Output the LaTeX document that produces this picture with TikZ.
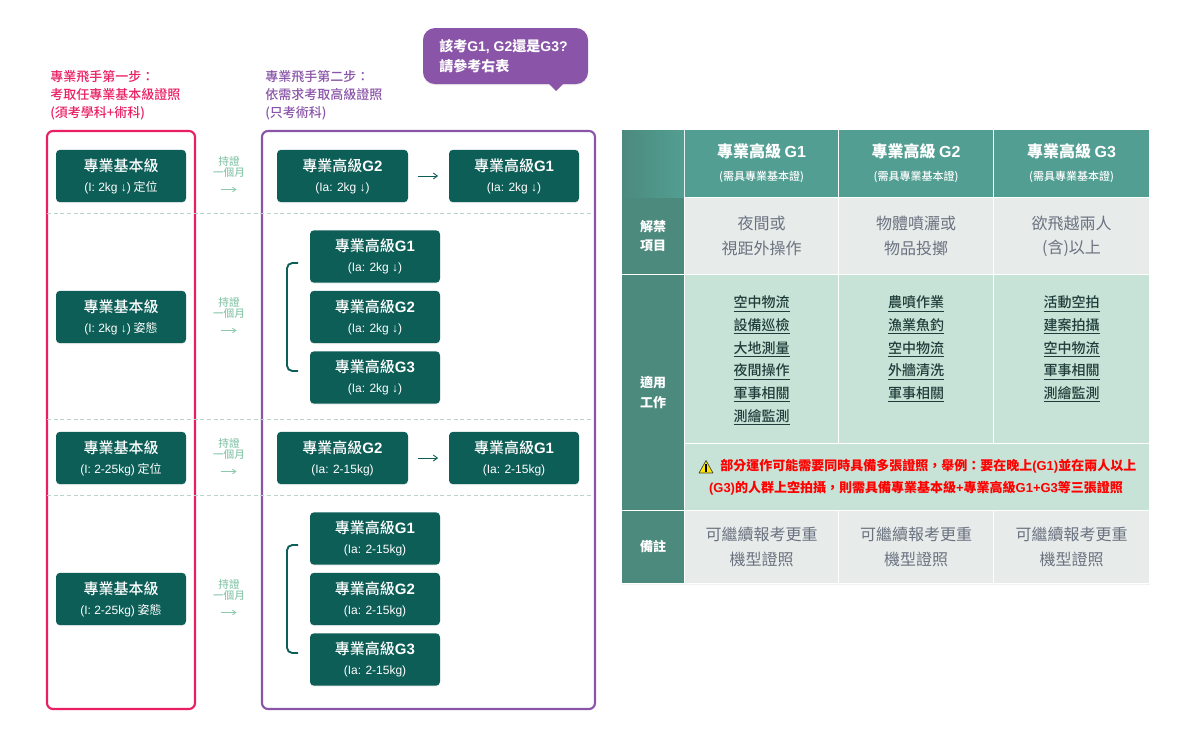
\documentclass[tikz,border=0pt]{standalone}
\usepackage{fontspec}
\setmainfont{Noto Sans CJK TC}
\newfontfamily\med{Noto Sans CJK TC Medium}
\newfontfamily\ltn{Liberation Sans}
\usetikzlibrary{arrows.meta,shadows,calc}
\definecolor{boxgreen}{HTML}{0D5E57}
\definecolor{stepred}{HTML}{E91E63}
\definecolor{steppurple}{HTML}{8A55A8}
\definecolor{dashline}{HTML}{BCD3CC}
\definecolor{holdgreen}{HTML}{8CC8AC}
\definecolor{headteal}{HTML}{529E92}
\definecolor{sideteal}{HTML}{4D8A7E}
\definecolor{cellgrey}{HTML}{E7EBEA}
\definecolor{cellgreen}{HTML}{C7E2D6}
\definecolor{greytext}{HTML}{6B7280}
\definecolor{linktext}{HTML}{1F3D3A}
\newcommand\fs[2]{\fontsize{#1}{#2}\selectfont}
\newcommand\boxtxt[2]{{\fs{11.25pt}{15pt}\med #1}\\{\fs{9pt}{15pt}#2}}
\newcommand\ul[1]{\underline{#1}}
\tikzset{
 x=0.75pt,y=-0.75pt,
 gbox/.style={fill=boxgreen,text=white,rounded corners=3pt,inner sep=0pt,align=center,minimum height=39.3pt,
   font=\fs{9pt}{15pt},drop shadow={opacity=.1,shadow xshift=0pt,shadow yshift=-.8pt}},
 frame/.style={line width=1.6pt,rounded corners=4.5pt,fill=none,inner sep=0pt},
 steptxt/.style={anchor=north west,inner sep=0pt,align=left,font=\fs{9.75pt}{13.5pt}\med},
 holdtxt/.style={text=holdgreen,inner sep=0pt,align=center,font=\fs{8pt}{8.3pt}\med},
 holdarrow/.style={draw=holdgreen,line width=.6pt,-{Straight Barb[length=2.5pt,width=3.5pt]}},
 nextarrow/.style={draw=boxgreen,line width=.7pt,-{Straight Barb[length=3pt,width=4.5pt]},shorten >=8pt,shorten <=7.5pt},
 bracket/.style={draw=boxgreen,line width=1.4pt,rounded corners=4pt},
 sep/.style={draw=dashline,line width=.6pt,dash pattern=on 3pt off 2pt},
 cell/.style={inner sep=0pt,align=center,outer sep=0pt},
 headcell/.style={cell,fill=headteal,text=white,font=\fs{9pt}{17pt}},
 sidecell/.style={cell,fill=sideteal,text=white,font=\fs{9.75pt}{14.6pt}\bfseries},
 greycell/.style={cell,fill=cellgrey,text=greytext,font=\fs{12pt}{18.2pt}},
 greencell/.style={cell,fill=cellgreen,text=linktext,font=\fs{10.5pt}{17pt}\med},
}
\newcommand\cellnode[7]{\node[#6,minimum width=#4*0.75pt,minimum height=#5*0.75pt] (#1) at (#2,#3) {#7};}
\newcommand\headtxt[1]{{\fs{12pt}{17pt}\bfseries 專業高級 {\ltn #1}}\\{\fs{8.25pt}{17pt}\med (需具專業基本證)}}
\begin{document}
\begin{tikzpicture}
\useasboundingbox (0,0) rectangle (1203,751);
% step titles
\node[steptxt,text=stepred] (stepa) at (50,70) {專業飛手第一步：\\考取任專業基本級證照\\(須考學科+術科)};
\node[steptxt,text=steppurple] (stepb) at (265,70) {專業飛手第二步：\\依需求考取高級證照\\(只考術科)};
% callout
\fill[steppurple,drop shadow={opacity=.15,shadow xshift=0pt,shadow yshift=-1pt},rounded corners=9pt] (423,28) rectangle (588,84);
\fill[steppurple] (549,84) -- (556,91) -- (563,84) -- cycle;
\node[anchor=west,inner sep=0pt,align=left,text=white,font=\fs{10.5pt}{15pt}\bfseries] (callout) at (439,56.5) {該考{\ltn G1, G2}還是{\ltn G3?}\\請參考右表};
% frames
\node[frame,draw=stepred,minimum width=111pt,minimum height=433.5pt] (framea) at (121,420) {};
\node[frame,draw=steppurple,minimum width=249.75pt,minimum height=433.5pt] (frameb) at (428.5,420) {};
% separators
\coordinate (s1a) at (47,213.5); \coordinate (s1b) at (593,213.5);
\coordinate (s2a) at (47,419.5); \coordinate (s2b) at (593,419.5);
\coordinate (s3a) at (47,495.5); \coordinate (s3b) at (593,495.5);
\draw[sep] (s1a) -- (s1b); \draw[sep] (s2a) -- (s2b); \draw[sep] (s3a) -- (s3b);
% basic boxes
\node[gbox,minimum width=97.5pt] (b1) at (121,176) {\boxtxt{專業基本級}{{\ltn (I: 2kg ↓)} 定位}};
\node[gbox,minimum width=97.5pt] (b2) at (121,317) {\boxtxt{專業基本級}{{\ltn (I: 2kg ↓)} 姿態}};
\node[gbox,minimum width=97.5pt] (b3) at (121,458) {\boxtxt{專業基本級}{{\ltn (I: 2-25kg)} 定位}};
\node[gbox,minimum width=97.5pt] (b4) at (121,599) {\boxtxt{專業基本級}{{\ltn (I: 2-25kg)} 姿態}};
% hold labels
\foreach \n/\y in {1/176,2/317,3/458,4/599}{
 \node[holdtxt] (h\n) at (229,\y-9.5) {持證\\一個月};
 \coordinate (ha\n) at (221,\y+13.5); \coordinate (hb\n) at (236.5,\y+13.5);
 \draw[holdarrow] (ha\n) -- (hb\n);
}
% row 1
\node[gbox,minimum width=98.25pt] (r1a) at (342.5,176) {\boxtxt{{\ltn\bfseries\phantom{}}專業高級{\ltn\bfseries G2}}{\ltn (Ia: 2kg ↓)}};
\node[gbox,minimum width=97.5pt] (r1b) at (514,176) {\boxtxt{專業高級{\ltn\bfseries G1}}{\ltn (Ia: 2kg ↓)}};
\draw[nextarrow] (r1a.east) -- (r1b.west);
% row 2
\node[gbox,minimum width=97.5pt] (r2a) at (375,256.5) {\boxtxt{專業高級{\ltn\bfseries G1}}{\ltn (Ia: 2kg ↓)}};
\node[gbox,minimum width=97.5pt] (r2b) at (375,317) {\boxtxt{專業高級{\ltn\bfseries G2}}{\ltn (Ia: 2kg ↓)}};
\node[gbox,minimum width=97.5pt] (r2c) at (375,377.5) {\boxtxt{專業高級{\ltn\bfseries G3}}{\ltn (Ia: 2kg ↓)}};
\coordinate (br2a) at (298,263); \coordinate (br2b) at (287,263); \coordinate (br2c) at (287,371); \coordinate (br2d) at (298,371);
\draw[bracket] (br2a) -- (br2b) -- (br2c) -- (br2d);
% row 3
\node[gbox,minimum width=98.25pt] (r3a) at (342.5,458) {\boxtxt{專業高級{\ltn\bfseries G2}}{\ltn (Ia: 2-15kg)}};
\node[gbox,minimum width=97.5pt] (r3b) at (514,458) {\boxtxt{專業高級{\ltn\bfseries G1}}{\ltn (Ia: 2-15kg)}};
\draw[nextarrow] (r3a.east) -- (r3b.west);
% row 4
\node[gbox,minimum width=97.5pt] (r4a) at (375,538.5) {\boxtxt{專業高級{\ltn\bfseries G1}}{\ltn (Ia: 2-15kg)}};
\node[gbox,minimum width=97.5pt] (r4b) at (375,599) {\boxtxt{專業高級{\ltn\bfseries G2}}{\ltn (Ia: 2-15kg)}};
\node[gbox,minimum width=97.5pt] (r4c) at (375,659.5) {\boxtxt{專業高級{\ltn\bfseries G3}}{\ltn (Ia: 2-15kg)}};
\coordinate (br4a) at (298,545); \coordinate (br4b) at (287,545); \coordinate (br4c) at (287,653); \coordinate (br4d) at (298,653);
\draw[bracket] (br4a) -- (br4b) -- (br4c) -- (br4d);
% table back
\fill[white,drop shadow={opacity=.1,shadow xshift=0pt,shadow yshift=-.5pt}] (621,129) rectangle (1150,584);
% header row
\fill[left color=sideteal,right color=headteal] (622,130) rectangle (684,197);
\cellnode{hg1}{761.5}{163.5}{153}{67}{headcell}{\headtxt{G1}}
\cellnode{hg2}{916}{163.5}{154}{67}{headcell}{\headtxt{G2}}
\cellnode{hg3}{1071.5}{163.5}{155}{67}{headcell}{\headtxt{G3}}
% row ban
\cellnode{sa}{653}{236}{62}{76}{sidecell}{解禁\\項目}
\cellnode{a1}{761.5}{236}{153}{76}{greycell}{夜間或\\視距外操作}
\cellnode{a2}{916}{236}{154}{76}{greycell}{物體噴灑或\\物品投擲}
\cellnode{a3}{1071.5}{236}{155}{76}{greycell}{欲飛越兩人\\(含)以上}
% row jobs
\cellnode{sb}{653}{392.5}{62}{235}{sidecell}{適用\\工作}
\node[greencell,minimum width=114.75pt,minimum height=126pt,anchor=north] (b1c) at (761.5,275) {};
\node[greencell,minimum width=115.5pt,minimum height=126pt,anchor=north] (b2c) at (916,275) {};
\node[greencell,minimum width=116.25pt,minimum height=126pt,anchor=north] (b3c) at (1071.5,275) {};
\node[greencell,anchor=north] (j1) at (761.5,296) {\ul{空中物流}\\\ul{設備巡檢}\\\ul{大地測量}\\\ul{夜間操作}\\\ul{軍事相關}\\\ul{測繪監測}};
\node[greencell,anchor=north] (j2) at (916,296) {\ul{農噴作業}\\\ul{漁業魚釣}\\\ul{空中物流}\\\ul{外牆清洗}\\\ul{軍事相關}};
\node[greencell,anchor=north] (j3) at (1071.5,296) {\ul{活動空拍}\\\ul{建案拍攝}\\\ul{空中物流}\\\ul{軍事相關}\\\ul{測繪監測}};
\cellnode{warn}{917}{477}{464}{66}{cell,fill=cellgreen}{}
\node[inner sep=0pt,text=red,font=\fs{9.75pt}{13pt}\bfseries,anchor=west] (w1) at (720,466) {部分運作可能需要同時具備多張證照，舉例：要在晚上{\ltn (G1)}並在兩人以上};
\node[inner sep=0pt,text=red,font=\fs{9.75pt}{13pt}\bfseries] (w2) at (916,488) {{\ltn (G3)}的人群上空拍攝，則需具備專業基本級{\ltn +}專業高級{\ltn G1+G3}等三張證照};
\filldraw[fill=yellow!90!orange,draw=black!75,line width=.5pt,line join=round] (706,460.5) -- (713,473) -- (699,473) -- cycle;
\fill[black] (705.4,464) rectangle (706.6,469.5);
\fill[black] (705.4,470.3) rectangle (706.6,471.6);
% row notes
\cellnode{sc}{653}{547}{62}{72}{sidecell}{備註}
\cellnode{c1}{761.5}{547}{153}{72}{greycell}{可繼續報考更重\\機型證照}
\cellnode{c2}{916}{547}{154}{72}{greycell}{可繼續報考更重\\機型證照}
\cellnode{c3}{1071.5}{547}{155}{72}{greycell}{可繼續報考更重\\機型證照}
\end{tikzpicture}
\end{document}
